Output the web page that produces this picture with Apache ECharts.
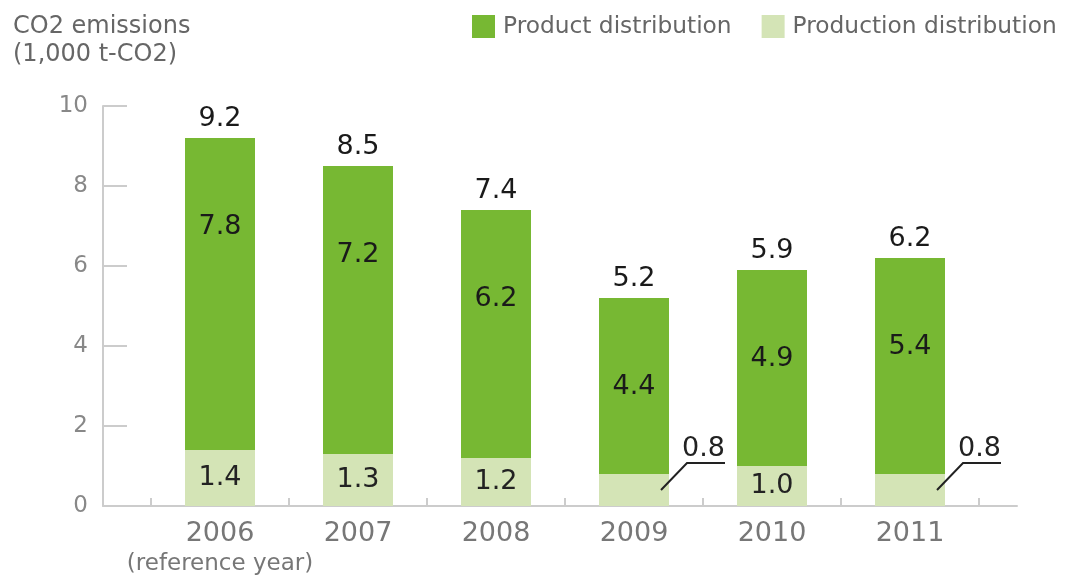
<!DOCTYPE html>
<html>
<head>
<meta charset="utf-8">
<title>CO2 emissions</title>
<script src="https://cdn.jsdelivr.net/npm/echarts@6/dist/echarts.min.js"></script>
<style>
  html, body { margin: 0; padding: 0; background: #fff; }
  #chart { width: 1065px; height: 576px; }
</style>
</head>
<body>
<div id="chart"></div>
<script>
// Fiscal years and the note shown under the base year
const years = ['2006', '2007', '2008', '2009', '2010', '2011'];
const yearNotes = ['(reference year)', '', '', '', '', ''];

// CO2 emissions, 1,000 t-CO2
const productDistribution = [7.8, 7.2, 6.2, 4.4, 4.9, 5.4];
const productionDistribution = [1.4, 1.3, 1.2, 0.8, 1.0, 0.8];

// Value axis ticks
const yTicks = [0, 2, 4, 6, 8, 10];

const totals = productDistribution.map((v, i) => +(v + productionDistribution[i]).toFixed(1));

const FONT = '"DejaVu Sans", Verdana, sans-serif';
const DARK = '#77b833';
const LIGHT = '#d4e4b6';
const AXIS = '#cccccc';
const BAR_WIDTH = 70;
// segments smaller than this get their value drawn outside with a leader line
const INSIDE_MIN = 0.9;

const chart = echarts.init(document.getElementById('chart'), null, { renderer: 'canvas' });

const option = {
  animation: false,
  backgroundColor: '#fff',
  textStyle: { fontFamily: FONT },
  title: {
    text: 'CO2 emissions\n(1,000 t-CO2)',
    left: 8,
    top: 8,
    textStyle: { fontFamily: FONT, fontSize: 24, fontWeight: 'normal', color: '#666', lineHeight: 28 }
  },
  legend: {
    data: ['Product distribution', 'Production distribution'],
    orient: 'horizontal',
    left: 472,
    top: 15,
    width: 640,
    padding: 0,
    itemWidth: 23,
    itemHeight: 23,
    itemGap: 30,
    icon: 'rect',
    textStyle: { fontFamily: FONT, fontSize: 23.3, color: '#666', padding: [0, 0, 0, 3] }
  },
  grid: [
    { left: 151, right: 86, top: 106, bottom: 70 },
    { left: 103, right: 48, top: 106, bottom: 70 }
  ],
  xAxis: [
    {
      type: 'category',
      gridIndex: 0,
      data: years,
      axisLine: { show: false },
      axisTick: { show: true, inside: true, interval: 0, length: 8, lineStyle: { color: AXIS, width: 2 } },
      axisLabel: {
        interval: 0,
        margin: 12,
        color: '#777',
        formatter: (val, idx) => yearNotes[idx] ? '{y|' + val + '}\n{n|' + yearNotes[idx] + '}' : '{y|' + val + '}',
        rich: {
          y: { fontFamily: FONT, fontSize: 27, color: '#777', lineHeight: 32 },
          n: { fontFamily: FONT, fontSize: 23, color: '#777', lineHeight: 28 }
        }
      }
    },
    {
      // full-width baseline
      type: 'value',
      gridIndex: 1,
      min: 0,
      max: 1,
      axisLine: { show: true, lineStyle: { color: AXIS, width: 2 } },
      axisTick: { show: false },
      axisLabel: { show: false },
      splitLine: { show: false }
    }
  ],
  yAxis: [
    {
      type: 'value',
      gridIndex: 0,
      min: yTicks[0],
      max: yTicks[yTicks.length - 1],
      interval: yTicks[1] - yTicks[0],
      offset: 48,
      axisLine: { show: true, lineStyle: { color: AXIS, width: 2 } },
      axisTick: { show: true, inside: true, length: 24, lineStyle: { color: AXIS, width: 2 } },
      axisLabel: { margin: 15, fontFamily: FONT, fontSize: 23, color: '#888' },
      splitLine: { show: false }
    },
    {
      type: 'value',
      gridIndex: 1,
      min: 0,
      max: 10,
      show: false
    }
  ],
  series: [
    {
      name: 'Production distribution',
      type: 'bar',
      stack: 'co2',
      barWidth: BAR_WIDTH,
      itemStyle: { color: LIGHT },
      label: {
        show: true,
        position: 'inside',
        fontFamily: FONT,
        fontSize: 27,
        color: '#222',
        formatter: p => p.value >= INSIDE_MIN ? p.value.toFixed(1) : ''
      },
      data: productionDistribution
    },
    {
      name: 'Product distribution',
      type: 'bar',
      stack: 'co2',
      barWidth: BAR_WIDTH,
      itemStyle: { color: DARK },
      label: {
        show: true,
        position: 'insideTop',
        distance: 75,
        fontFamily: FONT,
        fontSize: 27,
        color: '#1a1a1a',
        formatter: p => p.value.toFixed(1)
      },
      data: productDistribution
    },
    {
      // totals above each column
      name: 'Total',
      type: 'scatter',
      symbolSize: 0,
      silent: true,
      z: 5,
      itemStyle: { opacity: 1 },
      label: {
        show: true,
        position: 'top',
        distance: 6,
        opacity: 1,
        fontFamily: FONT,
        fontSize: 27,
        color: '#1a1a1a',
        formatter: p => p.value.toFixed(1)
      },
      data: totals
    },
    {
      // leader lines for segments too short to hold their value
      name: 'Callouts',
      type: 'custom',
      silent: true,
      z: 6,
      data: productionDistribution.map((v, i) => [i, v]),
      renderItem: (params, api) => {
        const i = api.value(0);
        const v = api.value(1);
        if (v >= INSIDE_MIN) return null;
        const mid = api.coord([i, v / 2]);
        const x0 = mid[0] + BAR_WIDTH / 2 - 8;
        const y0 = mid[1];
        const x1 = x0 + 26;
        const y1 = y0 - 27;
        const x2 = x1 + 38;
        return {
          type: 'group',
          children: [
            {
              type: 'polyline',
              shape: { points: [[x0, y0], [x1, y1], [x2, y1]] },
              style: { stroke: '#222', lineWidth: 2, fill: null }
            },
            {
              type: 'text',
              style: {
                text: v.toFixed(1),
                x: x2,
                y: y1 - 1,
                align: 'right',
                verticalAlign: 'bottom',
                fontFamily: FONT,
                fontSize: 27,
                fill: '#222'
              }
            }
          ]
        };
      }
    }
  ]
};

chart.setOption(option);
</script>
</body>
</html>
